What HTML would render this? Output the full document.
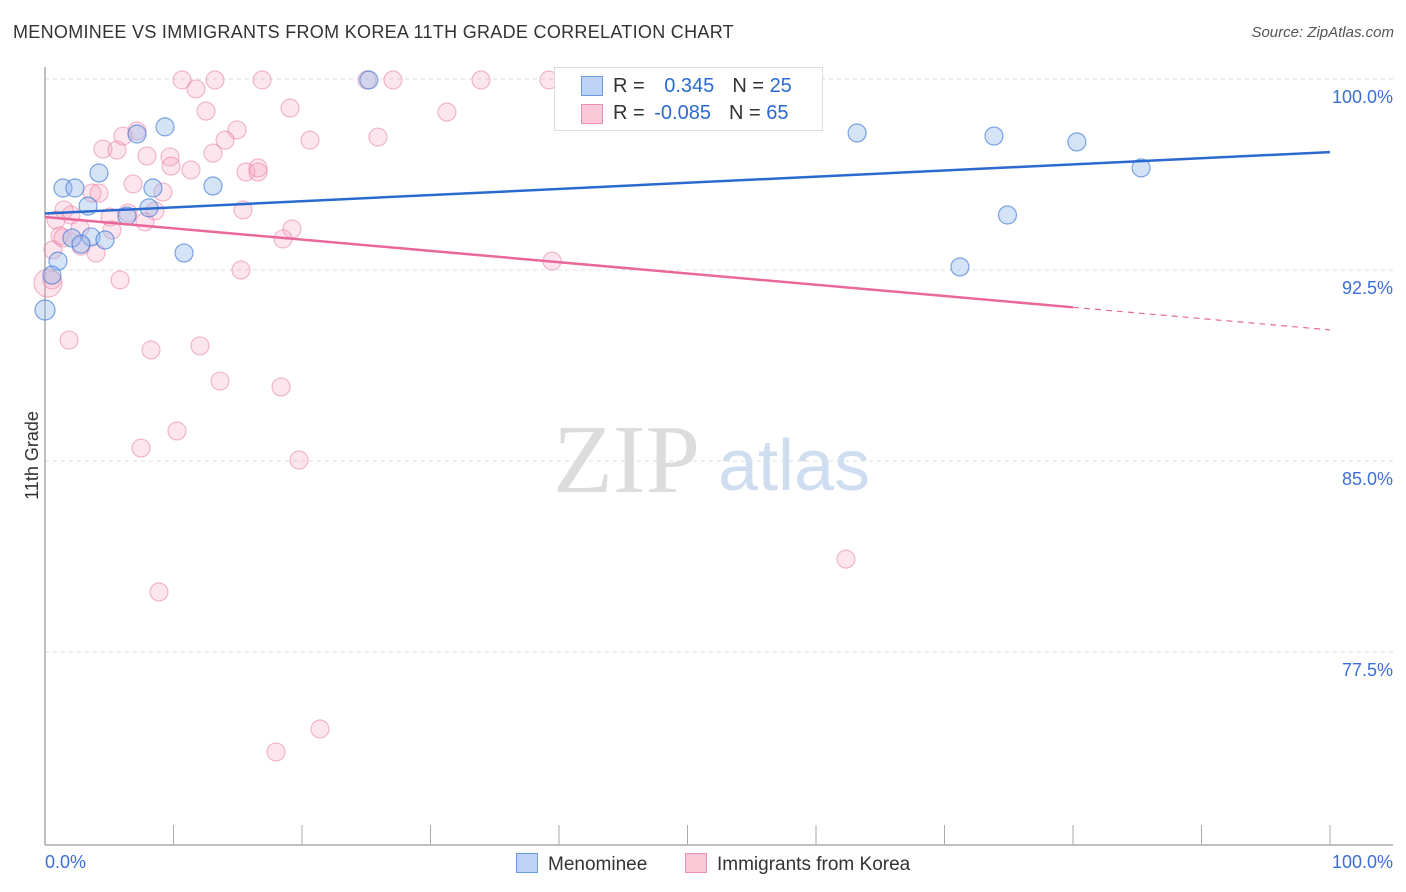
<!DOCTYPE html>
<html><head><meta charset="utf-8"><style>
body{margin:0;background:#fff;font-family:"Liberation Sans",sans-serif;}
#wrap{position:relative;width:1406px;height:892px;overflow:hidden}
.t{position:absolute;white-space:nowrap}
</style></head><body>
<div id="wrap">
<div class="t" style="left:13px;top:22px;font-size:18px;letter-spacing:0.3px;color:#333">MENOMINEE VS IMMIGRANTS FROM KOREA 11TH GRADE CORRELATION CHART</div>
<div class="t" style="right:12px;top:24px;font-size:15px;color:#555;font-style:italic">Source: ZipAtlas.com</div>
<svg id="plot" width="1406" height="892" style="position:absolute;left:0;top:0"></svg>
</div>
<script>
const blueX=[1.4,2.33,4.2,7.16,9.34,8.4,13.07,8.09,6.38,3.35,2.1,3.58,2.8,4.67,10.82,1.01,0.54,0,25.2,63.2,73.85,80.3,85.3,74.9,71.2];
const blueY=[95.72,95.72,96.31,97.84,98.12,95.72,95.8,94.94,94.62,95.01,93.76,93.8,93.52,93.68,93.17,92.85,92.3,90.93,99.96,97.88,97.76,97.53,96.51,94.66,92.62];
const pinkX=[10.66,13.23,16.89,25.06,27.08,33.93,39.22,11.75,12.53,19.07,31.28,7.16,14.94,6.07,25.91,20.62,14.01,4.51,5.6,7.94,13.07,9.73,9.81,11.36,15.64,16.58,16.58,6.85,9.18,3.66,4.2,15.41,8.56,6.46,5.06,2.02,1.48,0.86,7.78,2.72,5.21,1.17,19.22,18.52,0.62,3.97,2.8,39.46,15.25,5.84,0.54,1.87,8.25,12.06,13.62,18.37,10.27,7.47,19.77,62.33,8.87,21.4,17.98,0.23,1.4];
const pinkY=[99.96,99.96,99.96,99.96,99.96,99.96,99.96,99.61,98.74,98.86,98.7,97.96,98.0,97.76,97.72,97.6,97.6,97.25,97.21,96.98,97.09,96.94,96.58,96.43,96.35,96.35,96.51,95.88,95.56,95.52,95.52,94.86,94.82,94.74,94.58,94.66,94.86,94.46,94.39,94.15,94.07,93.84,94.11,93.72,93.29,93.17,93.44,92.85,92.5,92.11,92.11,89.75,89.36,89.52,88.14,87.91,86.18,85.51,85.04,81.15,79.86,74.48,73.58,91.99,93.76];
const blueTrend=[94.72,97.13];
const pinkTrend=[94.58,90.15];
const yTicks=[100,92.5,85,77.5];
const yTickLabels=["100.0%","92.5%","85.0%","77.5%"];
const NS="http://www.w3.org/2000/svg";
const svg=document.getElementById('plot');
const X=v=>45+v*12.85, Y=v=>79+(100-v)*25.47;
function el(t,a,p){const e=document.createElementNS(NS,t);for(const k in a)e.setAttribute(k,a[k]);(p||svg).appendChild(e);return e;}
let wm=el('text',{x:553,y:492,'font-size':98,fill:'#dcdcdc','font-family':'Liberation Serif'});wm.textContent='ZIP';


let wm2=el('text',{x:718,y:490,'font-size':72,fill:'#cfddf0','font-family':'Liberation Sans'});wm2.textContent='atlas';


yTicks.forEach((t,i)=>{
 const g=el('line',{x1:45,x2:1393,y1:Y(t),y2:Y(t),stroke:'#ddd','stroke-dasharray':'4,4'});
 
 
 const tx=el('text',{x:1393,y:Y(t)+24,'text-anchor':'end','font-size':18,fill:'#3b6fd6'});tx.textContent=yTickLabels[i];
 
 
});
const ax=el('line',{x1:45,x2:45,y1:67,y2:845,stroke:'#aaa','stroke-width':1.5});


const bx=el('line',{x1:45,x2:1393,y1:845,y2:845,stroke:'#aaa','stroke-width':1.5});


for(let i=0;i<=10;i++){const tk=el('line',{x1:X(i*10),x2:X(i*10),y1:825,y2:845,stroke:'#aaa'});
 
 }
pinkX.forEach((x,i)=>{const c=el('circle',{cx:X(x),cy:Y(pinkY[i]),r:(i==63?14:9),fill:'rgba(244,160,190,0.28)',stroke:'rgba(230,120,160,0.5)','stroke-width':1.2});
 
 });
blueX.forEach((x,i)=>{const c=el('circle',{cx:X(x),cy:Y(blueY[i]),r:(i==17?10:9),fill:'rgba(150,185,235,0.4)',stroke:'rgba(60,120,210,0.65)','stroke-width':1.2});
 
 });
const bl=el('line',{x1:X(0),y1:Y(blueTrend[0]),x2:X(100),y2:Y(blueTrend[1]),stroke:'#2a6ad0','stroke-width':2.5});


const pm=pinkTrend[0]+(pinkTrend[1]-pinkTrend[0])*0.8;
const pl=el('line',{x1:X(0),y1:Y(pinkTrend[0]),x2:X(80),y2:Y(pm),stroke:'#e8689a','stroke-width':2.5});


const pd=el('line',{x1:X(80),y1:Y(pm),x2:X(100),y2:Y(pinkTrend[1]),stroke:'#e8689a','stroke-width':1.2,'stroke-dasharray':'6,5'});


</script>
<div class="t" style="left:-12px;top:445px;font-size:18px;color:#333;transform:rotate(-90deg)">11th Grade</div>
<div class="t" style="left:45px;top:852px;font-size:18px;color:#3b6fd6">0.0%</div>
<div class="t" style="right:13px;top:852px;font-size:18px;color:#3b6fd6">100.0%</div>
<div style="position:absolute;left:554px;top:67px;width:267px;height:62px;border:1px solid #ddd;background:#fff;font-size:20px;color:#333">
 <div style="position:absolute;left:26px;top:8px;width:20px;height:18px;background:#bcd3f5;border:1px solid #6a9be0"></div>
 <div class="t" style="left:58px;top:7px">R = <span style="color:#2a6ad0;margin-left:14px">0.345</span><span style="margin-left:18px">N = </span><span style="color:#2a6ad0">25</span></div>
 <div style="position:absolute;left:26px;top:36px;width:20px;height:18px;background:#fbc8d8;border:1px solid #ee8fb0"></div>
 <div class="t" style="left:58px;top:34px">R = <span style="color:#2a6ad0;margin-left:4px">-0.085</span><span style="margin-left:18px">N = </span><span style="color:#2a6ad0">65</span></div>
</div>
<div style="position:absolute;left:516px;top:853px;font-size:19px;color:#333">
 <span style="display:inline-block;width:20px;height:18px;background:#bcd3f5;border:1px solid #6a9be0;vertical-align:-3px;margin-right:10px"></span>Menominee</div>
<div style="position:absolute;left:685px;top:853px;font-size:19px;color:#333">
 <span style="display:inline-block;width:20px;height:18px;background:#fbc8d8;border:1px solid #ee8fb0;vertical-align:-3px;margin-right:10px"></span>Immigrants from Korea</div>
</body></html>
